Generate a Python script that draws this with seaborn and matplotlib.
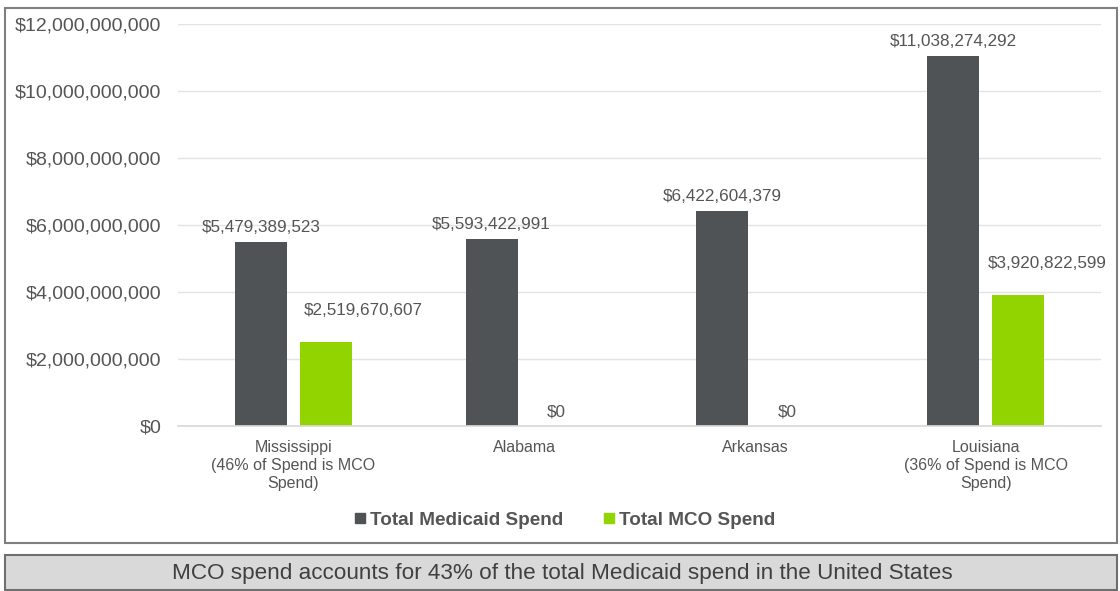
import matplotlib
matplotlib.use("Agg")
import matplotlib.pyplot as plt
from matplotlib.patches import Rectangle
from matplotlib.lines import Line2D
from matplotlib.ticker import FuncFormatter
import pandas as pd
import seaborn as sns

# Medicaid spend by state
states = [
    "Mississippi\n(46% of Spend is MCO\nSpend)",
    "Alabama",
    "Arkansas",
    "Louisiana\n(36% of Spend is MCO\nSpend)",
]
total_medicaid = [5479389523, 5593422991, 6422604379, 11038274292]
total_mco = [2519670607, 0, 0, 3920822599]
series_names = ["Total Medicaid Spend", "Total MCO Spend"]
y_ticks = [0, 2e9, 4e9, 6e9, 8e9, 10e9, 12e9]
footer = "MCO spend accounts for 43% of the total Medicaid spend in the United States"

dark = "#505356"
green = "#92d400"
text_col = "#555555"

df = pd.DataFrame({
    "state": states * 2,
    "series": [series_names[0]] * len(states) + [series_names[1]] * len(states),
    "value": total_medicaid + total_mco,
})

sns.set_theme(style="white")
plt.rcParams["font.family"] = ["Liberation Sans", "DejaVu Sans"]

W, H = 1120, 591
fig = plt.figure(figsize=(W / 100, H / 100), dpi=100)
ax = fig.add_axes([178 / W, 1 - 426 / H, 923 / W, 402 / H])

sns.barplot(
    data=df, x="state", y="value", hue="series",
    hue_order=series_names, palette=[dark, green],
    width=0.563, gap=0.2, ax=ax, legend=False,
    saturation=1, edgecolor="none",
)

ax.set_ylim(0, 12e9)
ax.set_xlim(-0.5, len(states) - 0.5)
ax.set_yticks(y_ticks)
ax.yaxis.set_major_formatter(FuncFormatter(lambda v, _: f"${v:,.0f}"))
ax.set_xlabel("")
ax.set_ylabel("")
ax.grid(axis="y", color="#e3e3e3", linewidth=1)
ax.set_axisbelow(True)
for s in ["top", "right", "left"]:
    ax.spines[s].set_visible(False)
ax.spines["bottom"].set_color("#d9d9d9")
ax.tick_params(axis="y", length=0, pad=12, labelsize=14, labelcolor=text_col)
ax.tick_params(axis="x", length=0, pad=10, labelsize=11.5, labelcolor=text_col)
for lbl in ax.get_xticklabels():
    lbl.set_linespacing(1.25)

# value labels above each bar
green_offsets = {0: (27, 17), 3: (21, 17)}
for ci, container in enumerate(ax.containers):
    for i, bar in enumerate(container):
        h = bar.get_height()
        cx = bar.get_x() + bar.get_width() / 2
        dx, dy = (0, 5)
        if ci == 1 and h > 0:
            dx, dy = green_offsets.get(i, (0, 5))
        ax.annotate(f"${h:,.0f}", xy=(cx, h), xytext=(dx, dy),
                    textcoords="offset points", ha="center", va="bottom",
                    fontsize=12.3, color=text_col, annotation_clip=False)

# legend
handles = [Line2D([], [], marker="s", linestyle="none", markersize=7.5,
                  markerfacecolor=c, markeredgecolor=c) for c in (dark, green)]
fig.legend(handles, series_names, loc="center", bbox_to_anchor=(565 / W, 1 - 520 / H),
           ncol=2, frameon=False, handlelength=0.6, handletextpad=0.25,
           columnspacing=2.1, prop={"size": 13.6, "weight": "bold"},
           labelcolor=text_col)

# chart border and footer banner
fig.patches.append(Rectangle((5 / W, 1 - 543 / H), 1112 / W, 535 / H,
                             transform=fig.transFigure, fill=False,
                             edgecolor="#7f7f7f", linewidth=1.5))
fig.patches.append(Rectangle((5 / W, 1 - 590 / H), 1112 / W, 35 / H,
                             transform=fig.transFigure, facecolor="#d9d9d9",
                             edgecolor="#6f6f6f", linewidth=1.5))
fig.text(562 / W, 1 - 574 / H, footer, ha="center", va="center",
         fontsize=16.2, color="#404040")

fig.savefig("out.png", dpi=100, facecolor="white")
